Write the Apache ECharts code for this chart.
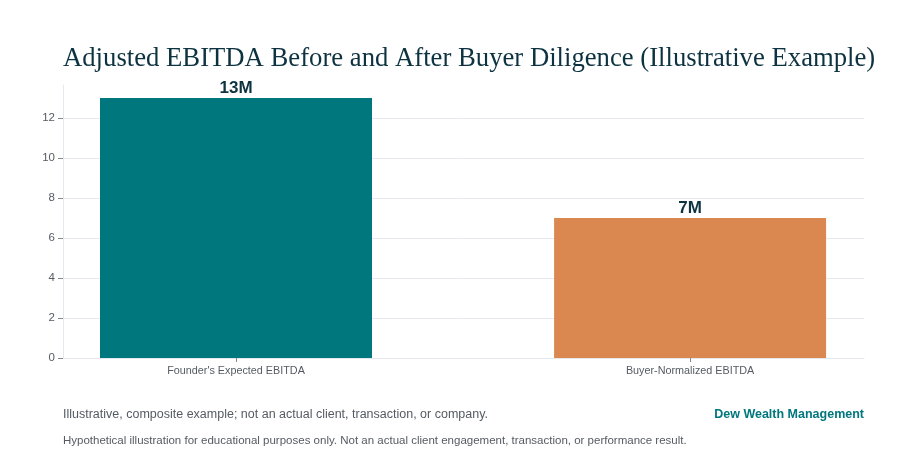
<!DOCTYPE html>
<html><head><meta charset="utf-8">
<script src="https://cdn.jsdelivr.net/npm/echarts@6/dist/echarts.min.js"></script>
<style>html,body{margin:0;padding:0;background:#fff}#c{width:900px;height:472px}</style>
</head><body><div id="c"></div>
<script>
const categories = ["Founder's Expected EBITDA", "Buyer-Normalized EBITDA"];
const values = [13, 7];
const valueLabels = ["13M", "7M"];
const barColors = ["#00777d", "#db8850"];
const yTicks = [0, 2, 4, 6, 8, 10, 12];

const chart = echarts.init(document.getElementById('c'));
chart.setOption({
  animation: false,
  title: [
    { text: 'Adjusted EBITDA Before and After Buyer Diligence (Illustrative Example)', left: 58, top: 40,
      textStyle: { fontFamily: 'Liberation Serif', fontSize: 26.7, fontWeight: 'normal', color: '#0d3340' } },
    { text: 'Illustrative, composite example; not an actual client, transaction, or company.', left: 58, top: 403,
      textStyle: { fontFamily: 'Liberation Sans', fontSize: 12.5, fontWeight: 'normal', color: '#555b63' } },
    { text: 'Dew Wealth Management', right: 31, top: 403,
      textStyle: { fontFamily: 'Liberation Sans', fontSize: 12.5, fontWeight: 'bold', color: '#00777d' } },
    { text: 'Hypothetical illustration for educational purposes only. Not an actual client engagement, transaction, or performance result.', left: 58, top: 430,
      textStyle: { fontFamily: 'Liberation Sans', fontSize: 11.5, fontWeight: 'normal', color: '#555b63' } }
  ],
  grid: { left: 63, right: 36, top: 85, bottom: 114, containLabel: false },
  xAxis: {
    type: 'value', min: -0.381, max: 1.383,
    axisLine: { show: true, onZero: false, lineStyle: { color: '#e5e8ee' } },
    axisTick: { show: true, customValues: [0, 1], length: 4, lineStyle: { color: '#888' } },
    axisLabel: { show: true, customValues: [0, 1], color: '#555b63', fontFamily: 'Liberation Sans', fontSize: 10.8, margin: 8,
      formatter: v => categories[Math.round(v)] },
    splitLine: { show: false }
  },
  yAxis: {
    type: 'value', min: 0, max: 13.65, interval: 2,
    axisLine: { show: true, onZero: false, lineStyle: { color: '#e5e8ee' } },
    axisTick: { show: true, length: 5, lineStyle: { color: '#888' } },
    axisLabel: { color: '#555b63', fontFamily: 'Liberation Sans', fontSize: 11.5, margin: 8,
      showMaxLabel: false,
      formatter: v => yTicks.includes(v) ? String(v) : '' },
    splitLine: { show: true, showMaxLine: false, lineStyle: { color: '#e5e8ee' } }
  },
  series: [{
    type: 'bar', barWidth: 272,
    data: values.map((v, i) => ({ value: [i, v], itemStyle: { color: barColors[i] } })),
    label: { show: true, position: 'top', distance: 1,
      formatter: p => valueLabels[p.dataIndex],
      fontFamily: 'Liberation Sans', fontSize: 17, fontWeight: 'bold', color: '#0d3340' }
  }]
});
</script></body></html>
